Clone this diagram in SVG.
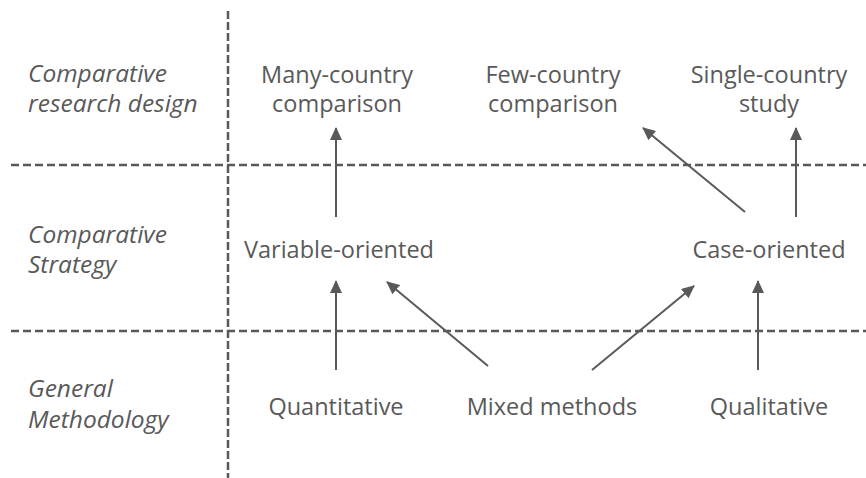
<svg xmlns="http://www.w3.org/2000/svg" width="866" height="478" viewBox="0 0 866 478">
<defs>
<marker id="ah" viewBox="0 0 13 12" refX="12" refY="6" markerWidth="13" markerHeight="12" markerUnits="userSpaceOnUse" orient="auto">
<path d="M0,0 L13,6 L0,12 Z" fill="#595959"/>
</marker>
<style>
.t{font-family:"Open Sans","Liberation Sans",sans-serif;font-size:23.5px;fill:#595959;text-anchor:middle}
.l{font-family:"Open Sans","Liberation Sans",sans-serif;font-size:24.5px;fill:#595959;font-style:italic}
.grid{stroke:#595959;stroke-width:2.5;stroke-dasharray:8 4;fill:none}
.vgrid{stroke:#595959;stroke-width:2.5;stroke-dasharray:8 3;fill:none}
.a{stroke:#595959;stroke-width:2;fill:none;marker-end:url(#ah)}
</style>
</defs>
<rect width="866" height="478" fill="#fff"/>
<g id="gridlines">
<line class="grid" x1="11" y1="165" x2="866" y2="165"/>
<line class="grid" x1="11" y1="331" x2="866" y2="331"/>
<line class="vgrid" x1="228" y1="11" x2="228" y2="478"/>
</g>
<g id="row-labels">
<text class="l" x="28" y="82">Comparative</text>
<text class="l" x="28" y="112">research design</text>
<text class="l" x="28" y="243">Comparative</text>
<text class="l" x="28" y="273">Strategy</text>
<text class="l" x="28" y="397">General</text>
<text class="l" x="28" y="428">Methodology</text>
</g>
<g id="many"><text class="t" x="337" y="83">Many-country</text><text class="t" x="337" y="112">comparison</text></g>
<g id="few"><text class="t" x="553" y="83">Few-country</text><text class="t" x="553" y="112">comparison</text></g>
<g id="single"><text class="t" x="769" y="83">Single-country</text><text class="t" x="769" y="112">study</text></g>
<g id="variable"><text class="t" x="339" y="258">Variable-oriented</text></g>
<g id="case"><text class="t" x="769" y="258">Case-oriented</text></g>
<g id="quant"><text class="t" x="336" y="415">Quantitative</text></g>
<g id="mixed"><text class="t" x="552" y="415">Mixed methods</text></g>
<g id="qual"><text class="t" x="769" y="415">Qualitative</text></g>
<g id="connectors">
<line class="a" x1="336" y1="217" x2="336" y2="128"/>
<line class="a" x1="745" y1="212" x2="643" y2="128"/>
<line class="a" x1="796" y1="217" x2="796" y2="128"/>
<line class="a" x1="336" y1="370" x2="336" y2="281"/>
<line class="a" x1="488" y1="366" x2="387" y2="282"/>
<line class="a" x1="592" y1="370" x2="694" y2="286"/>
<line class="a" x1="758" y1="370" x2="758" y2="281"/>
</g>
</svg>
